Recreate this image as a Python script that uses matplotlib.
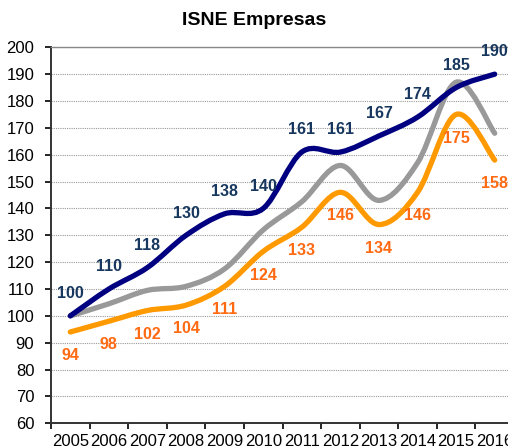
import matplotlib
matplotlib.use("Agg")
import matplotlib.pyplot as plt
from matplotlib.path import Path
from matplotlib.patches import PathPatch

plt.rcParams['font.family'] = ['Liberation Sans', 'DejaVu Sans']

years = ['2005', '2006', '2007', '2008', '2009', '2010',
         '2011', '2012', '2013', '2014', '2015', '2016']
navy_vals = [100, 110, 118, 130, 138, 140, 161, 161, 167, 174, 185, 190]
gray_vals = [100, 104.5, 109.5, 111, 117.5, 132, 142.5, 156, 143, 157, 187, 168]
orange_vals = [94, 98, 102, 104, 111, 124, 133, 146, 134, 146, 175, 158]

navy_line = '#000080'
gray_line = '#999999'
orange_line = '#FF9900'
navy_text = '#17375E'
orange_text = '#FF6A13'


def smooth_path(xs, ys):
    # excel-like smoothed line: cubic bezier through every point
    verts = [(xs[0], ys[0])]
    codes = [Path.MOVETO]
    n = len(xs)
    for i in range(n - 1):
        x0, y0 = (xs[i - 1], ys[i - 1]) if i > 0 else (xs[i], ys[i])
        x1, y1 = xs[i], ys[i]
        x2, y2 = xs[i + 1], ys[i + 1]
        x3, y3 = (xs[i + 2], ys[i + 2]) if i + 2 < n else (x2, y2)
        c1 = (x1 + (x2 - x0) / 6, y1 + (y2 - y0) / 6)
        c2 = (x2 - (x3 - x1) / 6, y2 - (y3 - y1) / 6)
        verts += [c1, c2, (x2, y2)]
        codes += [Path.CURVE4] * 3
    return Path(verts, codes)


fig = plt.figure(figsize=(5.08, 4.48), dpi=100)
ax = fig.add_axes([51 / 508, 24.7 / 448, 463 / 508, 376 / 448])

x = list(range(len(years)))
for vals, col, z in [(gray_vals, gray_line, 2), (orange_vals, orange_line, 3),
                     (navy_vals, navy_line, 4)]:
    p = PathPatch(smooth_path(x, vals), facecolor='none', edgecolor=col,
                  lw=3.8, capstyle='round', joinstyle='round', zorder=z)
    ax.add_patch(p)

for i, v in enumerate(navy_vals):
    ax.annotate(str(v), (i, v), xytext=(0, 16), textcoords='offset points',
                ha='center', va='center', fontsize=11.5, fontweight='bold',
                color=navy_text, zorder=6)
for i, v in enumerate(orange_vals):
    ax.annotate(str(v), (i, v), xytext=(0, -17), textcoords='offset points',
                ha='center', va='center', fontsize=11.5, fontweight='bold',
                color=orange_text, zorder=6)

ax.set_xlim(-0.5, 11.5)
ax.set_ylim(60, 200)
ax.set_yticks(range(60, 201, 10))
ax.set_xticks([i - 0.5 for i in x], minor=False)
ax.set_xticklabels([])
ax.set_xticks(x, minor=True)
ax.set_xticklabels(years, minor=True)
ax.tick_params(axis='x', which='minor', length=0, pad=8, labelsize=12)
ax.tick_params(axis='x', which='major', length=4, width=1.2, direction='out')
ax.tick_params(axis='y', length=4, width=1.2, pad=8, labelsize=12)

ax.grid(axis='y', color='#999999', linestyle=(0, (1, 1)), linewidth=0.8)
ax.set_axisbelow(True)
for s in ['left', 'bottom']:
    ax.spines[s].set_color('#333333')
    ax.spines[s].set_linewidth(1.4)
ax.spines['top'].set_color('#888888')
ax.spines['top'].set_linewidth(1.0)
ax.spines['right'].set_visible(False)

fig.text(0.5, 0.955, 'ISNE Empresas', ha='center', va='center',
         fontsize=14, fontweight='bold')

fig.savefig('out.png', dpi=100)
